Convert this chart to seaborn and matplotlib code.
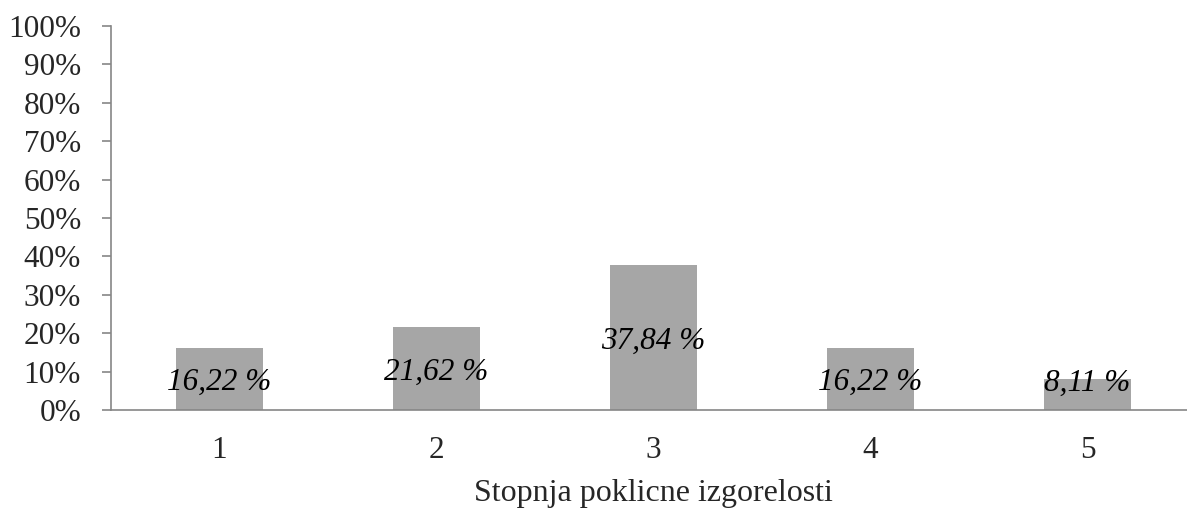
import numpy as np
import pandas as pd
import matplotlib
matplotlib.use("Agg")
import matplotlib.pyplot as plt
from matplotlib.ticker import FixedLocator, PercentFormatter
import seaborn as sns

# Burnout level distribution
levels = ["1", "2", "3", "4", "5"]
shares = [16.22, 21.62, 37.84, 16.22, 8.11]
y_ticks = list(range(0, 101, 10))
x_title = "Stopnja poklicne izgorelosti"

sns.set_style("white")
plt.rcParams["font.family"] = ["Liberation Serif", "DejaVu Serif"]

FS = 22.5

df = pd.DataFrame({"level": levels, "share": [s / 100 for s in shares]})

fig = plt.figure(figsize=(11.87, 5.08), dpi=100)
ax = fig.add_axes([0.0935, 0.1929, 0.9141, 0.7559])

sns.barplot(data=df, x="level", y="share", order=levels, color="#A6A6A6",
            width=0.4, saturation=1, edgecolor="none", ax=ax)

ax.set_xlim(-0.5, len(levels) - 0.5)
ax.set_ylim(0, 1)
ax.yaxis.set_major_locator(FixedLocator([t / 100 for t in y_ticks]))
ax.yaxis.set_major_formatter(PercentFormatter(1.0, decimals=0))

# category separators on the x axis
ax.xaxis.set_minor_locator(FixedLocator(np.arange(-0.5, len(levels), 1.0)))
ax.tick_params(axis="x", which="major", length=0, pad=19, labelsize=FS)
ax.tick_params(axis="x", which="minor", length=6, width=1.2, color="#868686", direction="out")
ax.tick_params(axis="y", length=6.5, width=1.2, color="#868686", direction="out",
               pad=15, labelsize=FS, left=True)

for side in ["top", "right"]:
    ax.spines[side].set_visible(False)
for side in ["left", "bottom"]:
    ax.spines[side].set_color("#868686")
    ax.spines[side].set_linewidth(1.2)

ax.set_ylabel("")
ax.set_xlabel(x_title, fontsize=23, labelpad=10)
ax.grid(False)

# value labels, centred in each bar
for i, s in enumerate(shares):
    v = s / 100
    ypos = max(v / 2, 0.08) - 0.01
    ax.text(i, ypos, f"{s:.2f} %".replace(".", ","), ha="center", va="center",
            fontsize=FS, style="italic", color="black")

fig.savefig("out.png", dpi=100)
